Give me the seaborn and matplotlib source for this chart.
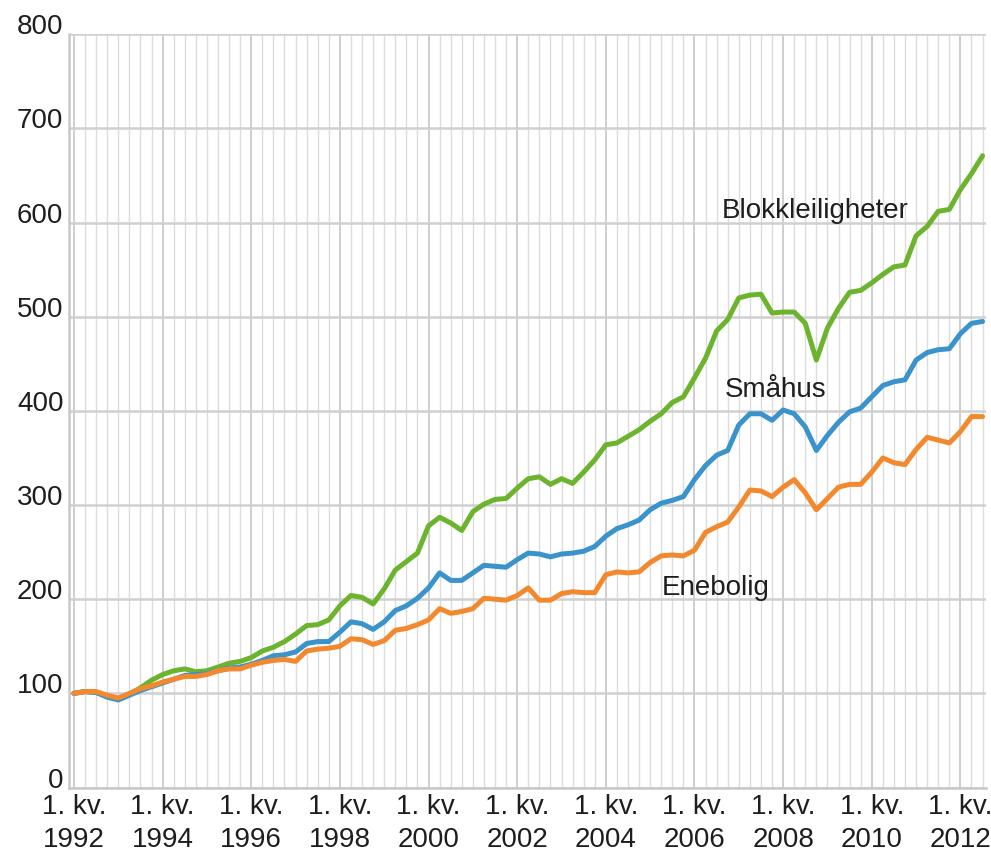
import numpy as np
import pandas as pd
import matplotlib
matplotlib.use("Agg")
import matplotlib.pyplot as plt
import seaborn as sns

# ---- data (quarterly price index, 1992 Q1 = 100) ----
periods = [str(p) for p in pd.period_range("1992Q1", "2012Q3", freq="Q")]

enebolig = [100, 102, 102, 98, 95, 100, 105, 108, 112, 115, 118, 118, 120, 124, 126, 126,
            130, 133, 135, 136, 134, 145, 147, 148, 150, 158, 157, 152, 156, 167, 169, 173, 178,
            190, 185, 187, 190, 201, 200, 199, 204, 212, 199, 199, 206, 208, 207, 207, 226,
            229, 228, 229, 239, 246, 247, 246, 252, 271, 277, 282, 298, 316, 315, 309, 319,
            327, 313, 295, 307, 319, 322, 322, 335, 350, 345, 343, 359, 372, 369, 366, 378, 394, 394]

smahus = [100, 102, 101, 96, 93, 98, 103, 107, 111, 115, 119, 120, 121, 124, 127, 128,
          131, 135, 140, 141, 144, 153, 155, 155, 165, 176, 174, 168, 176, 188, 193, 201, 212,
          228, 220, 220, 228, 236, 235, 234, 242, 249, 248, 245, 248, 249, 251, 256, 267,
          275, 279, 284, 295, 302, 305, 309, 327, 342, 353, 358, 385, 397, 397, 390, 401,
          397, 383, 358, 374, 388, 399, 403, 415, 427, 431, 433, 454, 462, 465, 466, 482, 493, 495]

blokk = [100, 102, 101, 97, 94, 99, 106, 114, 120, 124, 126, 123, 124, 128, 132, 134,
         138, 145, 149, 155, 163, 172, 173, 178, 193, 204, 202, 195, 211, 231, 240, 249, 278,
         287, 281, 273, 293, 301, 306, 307, 318, 328, 330, 322, 328, 323, 335, 348, 364,
         366, 373, 380, 389, 397, 409, 415, 435, 456, 485, 497, 520, 523, 524, 504, 505,
         505, 493, 454, 488, 509, 526, 528, 536, 545, 553, 555, 586, 596, 612, 614, 635, 652, 671]

series_names = ["Blokkleiligheter", "Småhus", "Enebolig"]
series_colors = ["#6cb42e", "#3a93cb", "#f3892f"]
tick_years = list(range(1992, 2013, 2))
tick_labels = [f"1. kv.\n{y}" for y in tick_years]
y_ticks = [0, 100, 200, 300, 400, 500, 600, 700, 800]

# ---- build long table ----
t = np.arange(len(periods))
df = pd.concat([
    pd.DataFrame({"t": t, "periode": periods, "serie": name, "verdi": vals})
    for name, vals in zip(series_names, [blokk, smahus, enebolig])
], ignore_index=True)

# ---- style ----
sns.set_theme(style="white")
plt.rcParams["font.family"] = ["Liberation Sans", "DejaVu Sans"]
text_color = "#1e1e1e"
fs = 20

fig = plt.figure(figsize=(9.91, 8.55), dpi=100)
ax = fig.add_axes([0.0696, 0.0789, 0.9258, 0.881])

sns.lineplot(data=df, x="t", y="verdi", hue="serie", hue_order=series_names,
             palette=dict(zip(series_names, series_colors)), linewidth=3.6,
             legend=False, ax=ax)

ax.set_xlim(-0.45, 82.35)
ax.set_ylim(0, 800)

ax.set_xticks([periods.index(f"{y}Q1") for y in tick_years])
ax.set_xticklabels(tick_labels)
ax.set_xticks(t, minor=True)
ax.set_yticks(y_ticks)
ax.set_yticklabels([str(v) for v in y_ticks])

ax.grid(which="minor", axis="x", color="#dcdcdc", linewidth=1.0)
ax.grid(which="major", axis="x", color="#c6c6c6", linewidth=1.2)
ax.grid(which="major", axis="y", color="#d0d0d0", linewidth=1.8)
ax.set_axisbelow(True)

for s in ["top", "right"]:
    ax.spines[s].set_visible(False)
for s in ["left", "bottom"]:
    ax.spines[s].set_color("#c8c8c8")
    ax.spines[s].set_linewidth(1.8)

ax.tick_params(axis="both", which="both", length=0, labelsize=fs, colors=text_color)
ax.tick_params(axis="x", pad=5)
ax.tick_params(axis="y", pad=4)
for lab in ax.get_yticklabels():
    lab.set_verticalalignment("baseline")
for lab in ax.get_xticklabels():
    lab.set_linespacing(1.35)

ax.set_xlabel("")
ax.set_ylabel("")

# series labels
ax.text(66.9, 605, "Blokkleiligheter", ha="center", va="baseline", fontsize=fs, color=text_color)
ax.text(63.3, 415, "Småhus", ha="center", va="baseline", fontsize=fs, color=text_color)
ax.text(57.9, 204, "Enebolig", ha="center", va="baseline", fontsize=fs, color=text_color)

fig.savefig("out.png", dpi=100)
